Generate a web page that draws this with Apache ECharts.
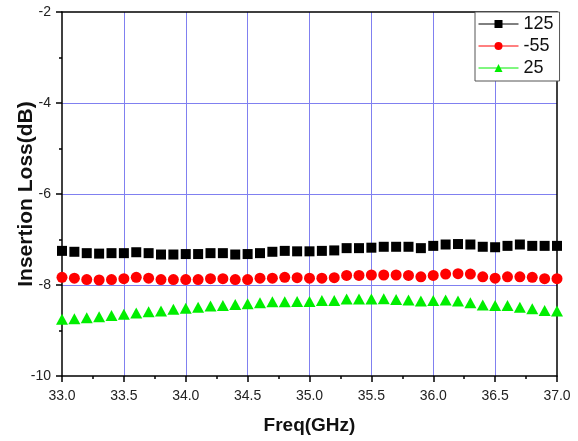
<!DOCTYPE html>
<html>
<head>
<meta charset="utf-8">
<script src="https://cdn.jsdelivr.net/npm/echarts@6/dist/echarts.min.js"></script>
<style>
html,body{margin:0;padding:0;background:#fff;}
#c{width:578px;height:441px;}
</style>
</head>
<body>
<div id="c"></div>
<script>
const freq = [33.0,33.1,33.2,33.3,33.4,33.5,33.6,33.7,33.8,33.9,
  34.0,34.1,34.2,34.3,34.4,34.5,34.6,34.7,34.8,34.9,
  35.0,35.1,35.2,35.3,35.4,35.5,35.6,35.7,35.8,35.9,
  36.0,36.1,36.2,36.3,36.4,36.5,36.6,36.7,36.8,36.9,37.0];
const s125 = [-7.25,-7.27,-7.30,-7.31,-7.30,-7.30,-7.28,-7.30,-7.33,-7.33,
  -7.32,-7.32,-7.30,-7.30,-7.33,-7.32,-7.30,-7.27,-7.25,-7.26,
  -7.26,-7.25,-7.24,-7.19,-7.19,-7.18,-7.16,-7.16,-7.16,-7.19,
  -7.14,-7.11,-7.10,-7.11,-7.16,-7.17,-7.14,-7.11,-7.14,-7.14,-7.14];
const sM55 = [-7.83,-7.85,-7.88,-7.89,-7.88,-7.86,-7.83,-7.85,-7.88,-7.88,
  -7.88,-7.88,-7.86,-7.86,-7.88,-7.88,-7.85,-7.85,-7.83,-7.84,
  -7.85,-7.85,-7.84,-7.79,-7.79,-7.78,-7.78,-7.78,-7.79,-7.82,
  -7.79,-7.76,-7.75,-7.76,-7.82,-7.85,-7.82,-7.82,-7.83,-7.86,-7.86];
const s25 = [-8.75,-8.74,-8.72,-8.70,-8.67,-8.645,-8.615,-8.59,-8.57,-8.535,
  -8.51,-8.49,-8.46,-8.45,-8.43,-8.41,-8.39,-8.37,-8.37,-8.36,
  -8.36,-8.34,-8.34,-8.31,-8.31,-8.31,-8.30,-8.32,-8.33,-8.35,
  -8.34,-8.33,-8.35,-8.39,-8.44,-8.45,-8.45,-8.49,-8.52,-8.56,-8.57];
const seriesNames = ['125','-55','25'];
const xTicks = {min:33, max:37, step:0.5};
const yTicks = {min:-10, max:-2, step:2};

function pairs(ys){ return freq.map((f,i)=>[f, ys[i]]); }

const chart = echarts.init(document.getElementById('c'), null, {renderer:'canvas'});
const font = 'Liberation Sans, Arial, Helvetica, sans-serif';
const gridBlue = '#8080f0';
const mk = (name, data, color, symbol, size) => ({
  name, type:'line', data: pairs(data), symbol, symbolSize:size, showSymbol:true,
  lineStyle:{opacity:0, color, width:1}, itemStyle:{color}, animation:false, z:3
});
chart.setOption({
  animation:false,
  backgroundColor:'#fff',
  grid:{left:62, right:21, top:12, bottom:65, show:false, containLabel:false, outerBoundsMode:'none'},
  legend:{
    orient:'vertical', left:475, top:12, padding:[3,6,4,3],
    borderColor:'#555', borderWidth:1, backgroundColor:'#fff',
    itemWidth:40, itemHeight:10, itemGap:4,
    textStyle:{fontFamily:font, fontSize:18, color:'#111', lineHeight:18},
    lineStyle:{opacity:1, width:1},
    data: seriesNames.map(n=>({name:n}))
  },
  xAxis:[{
    type:'value', min:xTicks.min, max:xTicks.max, interval:xTicks.step,
    name:'Freq(GHz)', nameLocation:'middle', nameGap:40, nameMoveOverlap:false,
    nameTextStyle:{fontFamily:font, fontSize:19, fontWeight:'bold', color:'#111'},
    axisLine:{show:true, onZero:false, lineStyle:{color:'#000', width:1.5}},
    axisTick:{show:true, inside:false, length:6, lineStyle:{color:'#000', width:1.5}},
    minorTick:{show:true, splitNumber:2, length:3, lineStyle:{color:'#000', width:1.5}},
    axisLabel:{fontFamily:font, fontSize:14, color:'#222', margin:13, formatter:v=>v.toFixed(1)},
    splitLine:{show:true, showMinLine:false, showMaxLine:false, lineStyle:{color:gridBlue, width:1}}
  },{
    type:'value', position:'top', min:xTicks.min, max:xTicks.max,
    axisLine:{show:true, onZero:false, lineStyle:{color:'#000', width:1.5}},
    axisTick:{show:false}, axisLabel:{show:false}, splitLine:{show:false}
  }],
  yAxis:[{
    type:'value', min:yTicks.min, max:yTicks.max, interval:yTicks.step,
    name:'Insertion Loss(dB)', nameLocation:'middle', nameGap:25, nameMoveOverlap:false,
    nameTextStyle:{fontFamily:font, fontSize:21, fontWeight:'bold', color:'#111'},
    axisLine:{show:true, onZero:false, lineStyle:{color:'#000', width:1.5}},
    axisTick:{show:true, inside:false, length:6, lineStyle:{color:'#000', width:1.5}},
    minorTick:{show:true, splitNumber:2, length:3, lineStyle:{color:'#000', width:1.5}},
    axisLabel:{fontFamily:font, fontSize:14, color:'#222', margin:11},
    splitLine:{show:true, showMinLine:false, showMaxLine:false, lineStyle:{color:gridBlue, width:1}}
  },{
    type:'value', position:'right', min:yTicks.min, max:yTicks.max,
    axisLine:{show:true, onZero:false, lineStyle:{color:'#000', width:1.5}},
    axisTick:{show:false}, axisLabel:{show:false}, splitLine:{show:false}
  }],
  series:[
    mk(seriesNames[0], s125, '#000000', 'rect', 10),
    mk(seriesNames[1], sM55, '#ff0000', 'circle', 11),
    mk(seriesNames[2], s25, '#00ee00', 'triangle', [12,11])
  ]
});
</script>
</body>
</html>
